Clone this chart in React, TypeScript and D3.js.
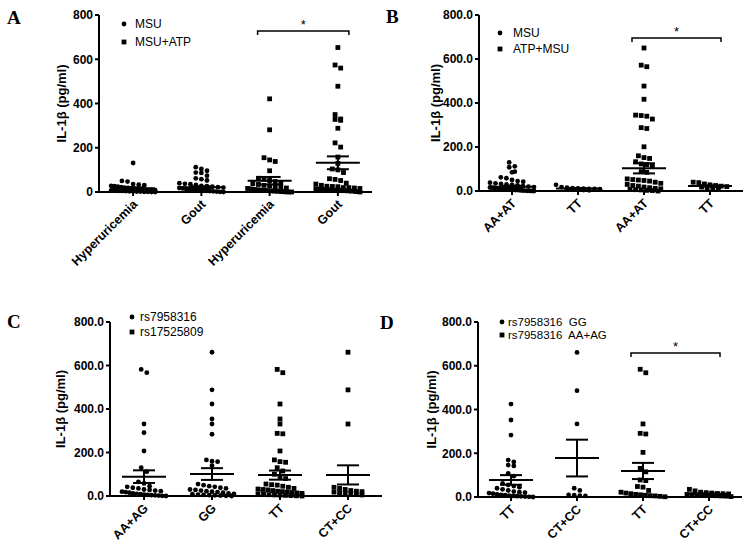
import React from 'react';
import * as d3 from 'd3';

// ---------- Panel A ----------
const catsA = ['Hyperuricemia', 'Gout', 'Hyperuricemia', 'Gout'];
const shapesA = ['circle', 'circle', 'square', 'square'];
const legendA = ['MSU', 'MSU+ATP'];
const valuesA = [
  [131, 50, 47, 36, 33, 31, 28, 26, 24, 22, 20, 19, 17, 15, 14, 12, 11, 10, 9, 8, 7, 6, 5, 5, 4, 3, 3, 2, 2, 1, 1, 0, 0],
  [112, 104, 96, 88, 86, 74, 62, 58, 52, 40, 37, 35, 32, 28, 26, 24, 22, 20, 18, 16, 14, 12, 10, 9, 8, 6, 5, 4, 3, 2, 1, 0],
  [421, 281, 155, 145, 138, 96, 62, 57, 52, 47, 42, 38, 34, 30, 27, 24, 21, 18, 16, 14, 12, 10, 8, 7, 6, 5, 4, 3, 2, 1, 0, 0],
  [653, 574, 560, 478, 350, 330, 328, 324, 288, 222, 203, 158, 129, 104, 100, 88, 60, 57, 52, 40, 36, 30, 26, 25, 24, 20, 20, 18, 16, 15, 13, 12, 10, 10, 8, 8, 6, 5, 4, 2, 0],
];
const meansA = [17, 21, 51, 132];
const semsA = [4, 5, 17, 29];
const sigA = [2, 3, 728];

// ---------- Panel B ----------
const catsB = ['AA+AT', 'TT', 'AA+AT', 'TT'];
const shapesB = ['circle', 'circle', 'square', 'square'];
const legendB = ['MSU', 'ATP+MSU'];
const valuesB = [
  [130, 112, 108, 88, 85, 62, 58, 50, 45, 42, 38, 35, 32, 30, 28, 25, 22, 20, 18, 16, 15, 14, 12, 11, 10, 9, 8, 7, 6, 5, 4, 4, 3, 2, 2, 1, 1, 0, 0],
  [28, 18, 15, 13, 12, 11, 10, 9, 8, 7, 6, 5, 4, 3],
  [650, 572, 565, 477, 417, 345, 343, 340, 327, 288, 284, 201, 160, 152, 148, 133, 123, 120, 113, 88, 85, 55, 52, 50, 48, 45, 40, 35, 30, 25, 22, 18, 15, 12, 10, 8, 6, 5, 3, 2, 0],
  [40, 38, 32, 28, 25, 22, 20, 18, 15, 12, 8],
];
const meansB = [19, 11, 103, 23];
const semsB = [5, 2, 23, 3];
const sigB = [2, 3, 695];

// ---------- Panel C ----------
const catsC = ['AA+AG', 'GG', 'TT', 'CT+CC'];
const shapesC = ['circle', 'circle', 'square', 'square'];
const legendC = ['rs7958316', 'rs17525809'];
const valuesC = [
  [582, 567, 331, 291, 207, 130, 112, 65, 58, 45, 42, 38, 35, 30, 28, 25, 22, 20, 18, 15, 12, 10, 8, 6, 5, 4, 3, 2, 1, 0],
  [661, 488, 423, 354, 331, 284, 166, 160, 158, 140, 55, 50, 45, 42, 38, 35, 30, 28, 25, 22, 20, 18, 15, 12, 10, 8, 6, 5, 4, 3, 2, 1, 0],
  [582, 567, 423, 354, 331, 288, 286, 207, 166, 158, 155, 130, 115, 100, 90, 80, 55, 52, 50, 45, 40, 35, 32, 30, 28, 25, 22, 20, 18, 16, 14, 12, 10, 8, 6, 5, 4, 3, 2, 1, 0],
  [661, 488, 331, 40, 35, 30, 25, 22, 20, 18, 15, 12, 10, 8, 5],
];
const meansC = [89, 101, 96, 97];
const semsC = [29, 27, 21, 44];

// ---------- Panel D ----------
const catsD = ['TT', 'CT+CC', 'TT', 'CT+CC'];
const shapesD = ['circle', 'circle', 'square', 'square'];
const legendD = ['rs7958316  GG', 'rs7958316  AA+AG'];
const valuesD = [
  [425, 352, 283, 169, 160, 146, 142, 108, 95, 62, 55, 50, 45, 40, 35, 30, 25, 22, 20, 18, 15, 12, 10, 8, 6, 5, 4, 3, 2, 1, 0],
  [661, 486, 334, 40, 30, 10, 8, 6, 5],
  [584, 568, 334, 291, 288, 204, 131, 115, 78, 75, 48, 45, 30, 22, 18, 15, 12, 10, 8, 6, 5, 3, 1],
  [35, 28, 22, 20, 18, 16, 15, 14, 12, 11, 10, 9, 8, 7, 6, 5, 4, 2],
];
const meansD = [78, 178, 119, 14];
const semsD = [22, 84, 37, 3];
const sigD = [2, 3, 658];

const yTicks = [0, 200, 400, 600, 800];

const SANS = 'Liberation Sans, Arial, sans-serif';
const SERIF = 'Liberation Serif, Times New Roman, serif';

type Cfg = {
  letter: string; letterX: number; letterY: number;
  x0: number; x1: number; yTop: number; yBot: number;
  ylabX: number; fmt: (v: number) => string;
  legX: number; legY: number; legDy: number; legTx: number; legFs: number;
  cats: string[]; shapes: string[]; legend: string[];
  values: number[][]; means: number[]; sems: number[]; sig?: number[];
};

function swarm(vals: number[], y: (v: number) => number, cx: number) {
  const rowH = 4.6, spacing = 5.6, maxHalf = 22;
  const pts = vals.map((v) => ({ v, py: y(v) })).sort((a, b) => a.py - b.py);
  const rows: { start: number; items: { v: number; py: number }[] }[] = [];
  let cur: any = null;
  for (const p of pts) {
    if (!cur || p.py - cur.start > rowH) {
      cur = { start: p.py, items: [] };
      rows.push(cur);
    }
    cur.items.push(p);
  }
  const out: { x: number; y: number }[] = [];
  rows.forEach((r) => {
    const n = r.items.length;
    const sp = n > 1 ? Math.min(spacing, (2 * maxHalf) / (n - 1)) : 0;
    r.items.forEach((p, i) => out.push({ x: cx + (i - (n - 1) / 2) * sp, y: p.py }));
  });
  return out;
}

function Marker({ shape, x, y }: { shape: string; x: number; y: number }) {
  if (shape === 'circle') return <circle cx={x} cy={y} r={2.4} fill="#000" />;
  return <rect x={x - 2.4} y={y - 2.4} width={4.8} height={4.8} fill="#000" />;
}

function Panel({ c }: { c: Cfg }) {
  const y = d3.scaleLinear().domain([0, 800]).range([c.yBot, c.yTop]);
  const x = d3
    .scalePoint<number>()
    .domain(d3.range(c.cats.length))
    .range([c.x0, c.x1])
    .padding(0.5);
  const ymid = (c.yTop + c.yBot) / 2;
  return (
    <g>
      <text x={c.letterX} y={c.letterY} fontFamily={SERIF} fontWeight="bold" fontSize={19}>
        {c.letter}
      </text>
      {/* y axis */}
      <line x1={c.x0} x2={c.x0} y1={y(800)} y2={y(0)} stroke="#000" strokeWidth={2} />
      {yTicks.map((t) => (
        <g key={t}>
          <line x1={c.x0 - 4} x2={c.x0} y1={y(t)} y2={y(t)} stroke="#000" strokeWidth={2} />
          <text
            x={c.x0 - 6}
            y={y(t)}
            dy="0.36em"
            textAnchor="end"
            fontFamily={SANS}
            fontWeight="bold"
            fontSize={12}
          >
            {c.fmt(t)}
          </text>
        </g>
      ))}
      <text
        transform={`translate(${c.ylabX},${ymid}) rotate(-90)`}
        textAnchor="middle"
        fontFamily={SANS}
        fontWeight="bold"
        fontSize={13}
      >
        IL-1β (pg/ml)
      </text>
      {/* x axis */}
      <line x1={c.x0 - 1} x2={c.x1} y1={y(0)} y2={y(0)} stroke="#000" strokeWidth={2} />
      {c.cats.map((cat, i) => {
        const cx = x(i)!;
        return (
          <g key={i}>
            <line x1={cx} x2={cx} y1={y(0)} y2={y(0) + 4} stroke="#000" strokeWidth={2} />
            <text
              transform={`translate(${cx + 5},${y(0) + 13}) rotate(-45)`}
              textAnchor="end"
              fontFamily={SANS}
              fontWeight="bold"
              fontSize={12.5}
            >
              {cat}
            </text>
          </g>
        );
      })}
      {/* points */}
      {c.values.map((vals, i) =>
        swarm(vals, y, x(i)!).map((p, j) => <Marker key={`${i}-${j}`} shape={c.shapes[i]} x={p.x} y={p.y} />)
      )}
      {/* mean & SEM */}
      {c.means.map((m, i) => {
        const cx = x(i)!;
        const s = c.sems[i];
        return (
          <g key={`m${i}`} stroke="#000" strokeWidth={2}>
            <line x1={cx - 22} x2={cx + 22} y1={y(m)} y2={y(m)} />
            <line x1={cx} x2={cx} y1={y(m + s)} y2={y(m - s)} />
            <line x1={cx - 11} x2={cx + 11} y1={y(m + s)} y2={y(m + s)} />
            <line x1={cx - 11} x2={cx + 11} y1={y(m - s)} y2={y(m - s)} />
          </g>
        );
      })}
      {/* significance */}
      {c.sig && (() => {
        const xa = x(c.sig[0])! - 12;
        const xb = x(c.sig[1])! + 11;
        const yy = y(c.sig[2]);
        return (
          <g>
            <path
              d={`M${xa},${yy + 4}V${yy}H${xb}V${yy + 4}`}
              fill="none"
              stroke="#000"
              strokeWidth={1.5}
            />
            <text x={(xa + xb) / 2} y={yy - 2} textAnchor="middle" fontFamily={SANS} fontSize={13}>
              *
            </text>
          </g>
        );
      })()}
      {/* legend */}
      {c.legend.map((l, i) => (
        <g key={`l${i}`}>
          <Marker shape={i === 0 ? 'circle' : 'square'} x={c.legX} y={c.legY + i * c.legDy} />
          <text
            x={c.legTx}
            y={c.legY + i * c.legDy}
            dy="0.36em"
            fontFamily={SANS}
            fontSize={c.legFs}
            xmlSpace="preserve"
            style={{ whiteSpace: 'pre' }}
          >
            {l}
          </text>
        </g>
      ))}
    </g>
  );
}

const fmtInt = d3.format('d');
const fmt1 = d3.format('.1f');

const panels: Cfg[] = [
  {
    letter: 'A', letterX: 7, letterY: 24, x0: 99, x1: 372, yTop: 15, yBot: 192, ylabX: 66, fmt: fmtInt,
    legX: 124, legY: 24, legDy: 18, legTx: 135, legFs: 12,
    cats: catsA, shapes: shapesA, legend: legendA, values: valuesA, means: meansA, sems: semsA, sig: sigA,
  },
  {
    letter: 'B', letterX: 386, letterY: 23, x0: 479, x1: 743, yTop: 15, yBot: 191, ylabX: 440, fmt: fmt1,
    legX: 500, legY: 33, legDy: 16, legTx: 513, legFs: 12,
    cats: catsB, shapes: shapesB, legend: legendB, values: valuesB, means: meansB, sems: semsB, sig: sigB,
  },
  {
    letter: 'C', letterX: 7, letterY: 328, x0: 110, x1: 382, yTop: 322, yBot: 496, ylabX: 65, fmt: fmt1,
    legX: 132, legY: 317, legDy: 15, legTx: 140, legFs: 12,
    cats: catsC, shapes: shapesC, legend: legendC, values: valuesC, means: meansC, sems: semsC,
  },
  {
    letter: 'D', letterX: 380, letterY: 329, x0: 478, x1: 742, yTop: 322, yBot: 497, ylabX: 436, fmt: fmt1,
    legX: 502, legY: 322, legDy: 13, legTx: 508, legFs: 11.5,
    cats: catsD, shapes: shapesD, legend: legendD, values: valuesD, means: meansD, sems: semsD, sig: sigD,
  },
];

export default function App() {
  return (
    <svg
      width={750}
      height={543}
      style={{ position: 'absolute', left: 0, top: 0, background: '#fff' }}
    >
      <rect width={750} height={543} fill="#fff" />
      {panels.map((p) => (
        <Panel key={p.letter} c={p} />
      ))}
    </svg>
  );
}
